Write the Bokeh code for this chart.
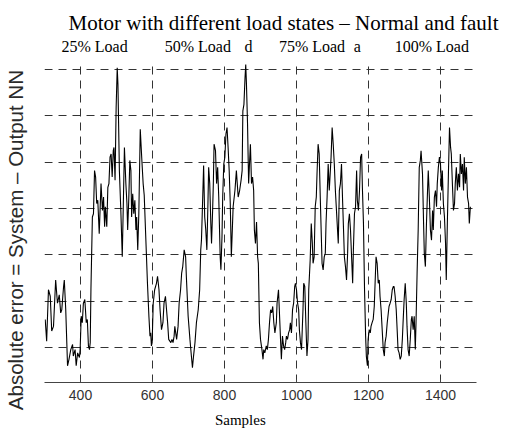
import numpy as np
from bokeh.plotting import figure
from bokeh.models import FixedTicker, Range1d, LinearAxis
from bokeh.embed import file_html
from bokeh.resources import INLINE

title_text = "Motor with different load states \u2013 Normal and fault"
y_label_text = "Absolute error = System \u2013 Output NN"
x_label_text = "Samples"
x_label_pos = 844
x_ticks = [400, 600, 800, 1000, 1200, 1400]
y_grid = [1, 2, 3, 4, 5, 6, 7]
load_names = ["25% Load", "50% Load", "75% Load", "100% Load"]
load_pos = [439, 726, 1043, 1376]
stray_chars = ["d", "a"]
stray_pos = [867, 1169]

samples_25 = [302, 306, 311, 316, 320, 325, 331, 336, 341, 345, 348, 353, 355, 359, 364, 368, 373, 378, 380, 385,
              388, 392, 397, 399, 402, 405, 408, 412, 416, 419, 422, 425, 427, 429, 433, 436, 439, 442, 445, 448,
              452, 454, 457, 461, 464, 467, 469, 473, 476, 479, 482, 485, 488, 491, 493, 496, 499, 502, 504, 508,
              512, 516, 519, 522, 526, 529, 531, 534, 537, 540, 542, 545, 548, 551, 554, 556, 559, 562, 566, 570]
error_25 = [1.61, 1.14, 2.25, 2.11, 1.36, 1.46, 2.46, 1.96, 2.14, 1.75, 1.82, 2.32, 2.46, 1.82, 0.61, 0.75, 0.96, 1.07, 0.82, 0.96,
            0.61, 0.89, 0.79, 0.96, 1.68, 1.54, 1.96, 2.04, 1.54, 1.61, 1.04, 0.96, 1.11, 2.25, 3.82, 3.89, 4.82, 4.68, 4.11, 4.18,
            3.46, 3.89, 4.54, 3.96, 4.25, 3.61, 4.04, 3.61, 4.46, 4.54, 5.11, 5.18, 4.68, 5.25, 5.32, 4.61, 6.18, 7.04, 6.68, 4.82,
            3.96, 2.96, 4.11, 5.32, 4.54, 4.11, 3.54, 4.18, 5.04, 4.82, 3.82, 4.32, 3.89, 4.18, 3.54, 3.82, 3.11, 3.89, 5.71, 5.11]

samples_50 = [574, 577, 586, 590, 593, 595, 597, 599, 602, 606, 611, 614, 618, 621, 625, 629, 632, 636, 639, 642,
              645, 651, 654, 657, 660, 662, 667, 671, 674, 678, 681, 684, 688, 692, 694, 699, 704, 708, 711, 714,
              718, 722, 727, 731, 734, 736, 739, 742, 745, 748, 751, 754, 756, 759, 762, 764, 767, 769, 771, 775,
              778, 781, 784, 788, 790, 793, 795, 798, 801, 804, 807, 810, 813, 816, 819, 821, 824, 829, 833, 838,
              842, 846, 849, 851, 854, 857, 859, 861, 864, 867, 869, 872, 875, 878, 881, 883, 886, 889, 892, 894]
error_50 = [4.54, 4.29, 2.39, 1.68, 1.25, 1.32, 1.04, 1.11, 1.96, 2.25, 2.39, 2.54, 2.25, 1.82, 1.39, 1.54, 1.96, 2.11, 1.82, 1.54,
            1.18, 1.11, 1.18, 1.11, 1.25, 1.46, 1.18, 1.46, 1.96, 2.25, 2.61, 2.75, 3.11, 2.96, 2.54, 1.68, 1.18, 0.82, 0.57, 0.82,
            1.11, 1.54, 1.82, 2.25, 3.11, 3.32, 4.11, 4.93, 3.82, 3.54, 3.11, 4.11, 4.89, 4.54, 3.68, 3.25, 3.96, 4.54, 5.39, 5.25,
            4.54, 4.89, 4.25, 2.96, 2.68, 3.39, 4.25, 4.96, 5.11, 5.61, 5.75, 5.32, 4.82, 4.11, 2.96, 3.39, 4.04, 4.39, 4.82, 4.25,
            4.39, 4.61, 4.82, 6.11, 6.25, 6.82, 7.11, 6.68, 5.82, 4.54, 4.89, 5.39, 4.54, 4.68, 4.39, 3.54, 3.25, 3.71, 2.96, 2.82]

samples_75 = [897, 900, 904, 907, 909, 912, 916, 919, 922, 925, 928, 931, 934, 937, 940, 944, 946, 950, 953, 956,
              958, 961, 964, 967, 970, 972, 975, 978, 981, 983, 986, 989, 992, 995, 997, 1000, 1003, 1006, 1008, 1011,
              1014, 1018, 1020, 1023, 1026, 1029, 1032, 1034, 1038, 1041, 1044, 1046, 1049, 1052, 1055, 1057, 1060, 1063, 1066, 1069,
              1071, 1074, 1077, 1080, 1082, 1085, 1088, 1091, 1094, 1096, 1099, 1102, 1105, 1108, 1112, 1116, 1119, 1122, 1125, 1128,
              1131, 1133, 1136, 1139, 1142, 1144, 1147, 1150, 1153, 1156, 1158, 1161, 1164, 1167, 1169, 1172, 1175, 1178, 1181, 1183, 1186]
error_75 = [1.54, 1.18, 0.96, 0.75, 0.96, 0.89, 1.04, 0.96, 1.18, 1.54, 1.82, 1.75, 1.89, 1.54, 1.32, 1.54, 1.96, 2.25, 1.68, 1.11,
            0.75, 1.25, 1.04, 0.96, 1.11, 1.25, 1.18, 1.32, 1.39, 1.54, 1.32, 1.82, 1.96, 2.32, 2.39, 2.25, 1.96, 1.82, 1.39, 1.11,
            0.96, 1.82, 2.39, 2.32, 1.54, 0.82, 1.18, 2.25, 2.89, 3.68, 3.25, 2.82, 2.96, 4.04, 4.25, 4.75, 5.39, 5.18, 4.25, 3.39,
            2.82, 2.68, 2.96, 3.04, 3.68, 4.25, 4.96, 4.39, 4.82, 5.11, 5.75, 5.39, 4.96, 4.39, 3.82, 3.25, 4.39, 4.54, 4.96, 4.18,
            3.46, 2.96, 2.75, 2.46, 3.04, 3.68, 3.89, 3.54, 2.96, 2.39, 3.11, 3.89, 4.04, 4.82, 4.18, 3.96, 4.39, 5.11, 5.18, 4.46, 3.68]

samples_100 = [1189, 1192, 1194, 1197, 1199, 1202, 1205, 1207, 1210, 1213, 1216, 1219, 1221, 1224, 1227, 1230, 1232, 1235, 1238, 1241,
               1244, 1246, 1249, 1252, 1255, 1257, 1260, 1263, 1266, 1269, 1271, 1274, 1277, 1280, 1282, 1285, 1288, 1291, 1294, 1296,
               1299, 1302, 1305, 1307, 1310, 1313, 1316, 1319, 1321, 1324, 1327, 1330, 1332, 1335, 1338, 1341, 1344, 1346, 1350, 1353,
               1355, 1358, 1361, 1364, 1366, 1369, 1372, 1375, 1378, 1380, 1383, 1386, 1389, 1391, 1394, 1397, 1400, 1403, 1405, 1408,
               1411, 1414, 1416, 1419, 1422, 1425, 1428, 1430, 1433, 1436, 1439, 1441, 1444, 1447, 1450, 1453, 1455, 1458, 1461, 1464,
               1466, 1469, 1472, 1475, 1478, 1480, 1483]
error_100 = [2.25, 1.25, 0.82, 0.61, 1.18, 1.39, 1.32, 1.46, 1.54, 1.61, 1.89, 2.54, 2.96, 2.82, 2.39, 2.46, 2.11, 1.82, 1.39, 0.96,
             0.82, 1.11, 1.25, 1.54, 1.75, 1.89, 1.96, 2.04, 2.25, 2.32, 2.32, 2.11, 1.82, 1.32, 0.96, 0.89, 0.75, 0.82, 1.18, 1.54,
             2.04, 2.39, 1.96, 1.46, 0.96, 0.82, 1.18, 1.61, 1.68, 1.39, 1.68, 0.96, 1.54, 2.61, 3.54, 4.89, 5.04, 5.25, 4.75, 3.68,
             3.04, 2.75, 3.68, 4.39, 4.82, 4.25, 3.54, 3.32, 3.96, 3.54, 4.25, 4.39, 4.04, 4.54, 4.89, 5.11, 4.96, 4.39, 4.82, 4.11,
             3.82, 3.25, 2.46, 3.68, 4.75, 5.75, 5.32, 5.18, 4.54, 3.96, 4.11, 4.54, 4.89, 4.39, 4.75, 4.46, 5.18, 4.75, 4.96, 4.39,
             5.11, 4.54, 4.89, 4.25, 4.11, 3.68, 4.04]

samples = samples_25 + samples_50 + samples_75 + samples_100
abs_error = error_25 + error_50 + error_75 + error_100

SERIF = "Liberation Serif"
SANS = "Liberation Sans"

p = figure(width=509, height=430, output_backend="svg", toolbar_location=None,
           x_range=Range1d(300, 1500), y_range=Range1d(0.25, 7.13),
           min_border_left=44, min_border_right=33, min_border_top=63, min_border_bottom=46)
p.outline_line_color = None
p.background_fill_color = "white"
p.border_fill_color = "white"

p.line(samples, abs_error, line_color="black", line_width=1.1)

# title
p.title.text = title_text
p.title.text_font = SERIF
p.title.text_font_size = "21px"
p.title.text_font_style = "normal"
p.title.text_color = "black"
p.title.align = "left"
p.title.offset = 24
p.title.standoff = 0

# left axis: label only
p.yaxis.ticker = FixedTicker(ticks=[])
p.yaxis.axis_line_color = None
p.yaxis.major_tick_line_color = None
p.yaxis.minor_tick_line_color = None
p.yaxis.axis_label = y_label_text + "\u00a0" * 6
p.yaxis.axis_label_text_font = SANS
p.yaxis.axis_label_text_font_size = "20.5px"
p.yaxis.axis_label_text_font_style = "normal"
p.yaxis.axis_label_text_color = "#2a2a2a"
p.yaxis.axis_label_standoff = 18

# bottom axis
p.xaxis.ticker = FixedTicker(ticks=x_ticks)
p.xaxis.minor_tick_line_color = None
p.xaxis.major_tick_out = 0
p.xaxis.major_tick_in = 3
p.xaxis.major_tick_line_color = "#444444"
p.xaxis.axis_line_color = "#444444"
p.xaxis.axis_line_width = 1
p.xaxis.major_label_text_font = SANS
p.xaxis.major_label_text_font_size = "14px"
p.xaxis.major_label_text_color = "#333333"
p.xaxis.major_label_standoff = 7

# second bottom axis carrying the "Samples" caption
cap_axis = LinearAxis(ticker=FixedTicker(ticks=[x_label_pos]),
                      major_label_overrides={x_label_pos: x_label_text},
                      axis_line_color=None, major_tick_line_color=None, minor_tick_line_color=None,
                      major_label_text_font=SERIF, major_label_text_font_size="15px",
                      major_label_text_color="black", major_label_standoff=3)
p.add_layout(cap_axis, "below")

# top axis carrying the load annotations
top_ticks = load_pos + stray_pos
top_labels = {pos: name for pos, name in zip(load_pos, load_names)}
top_labels.update({pos: ch for pos, ch in zip(stray_pos, stray_chars)})
top_axis = LinearAxis(ticker=FixedTicker(ticks=top_ticks), major_label_overrides=top_labels,
                      axis_line_color=None, major_tick_line_color=None, minor_tick_line_color=None,
                      major_label_text_font=SERIF, major_label_text_font_size="16px",
                      major_label_text_color="black", major_label_standoff=3)
p.add_layout(top_axis, "above")

# grids
p.xgrid.ticker = FixedTicker(ticks=x_ticks)
p.ygrid.ticker = FixedTicker(ticks=y_grid)
for g in (p.xgrid, p.ygrid):
    g.grid_line_color = "#333333"
    g.grid_line_dash = "8 6"
    g.grid_line_width = 1
    g.grid_line_alpha = 1.0

open("out.html", "w").write(file_html(p, INLINE))
